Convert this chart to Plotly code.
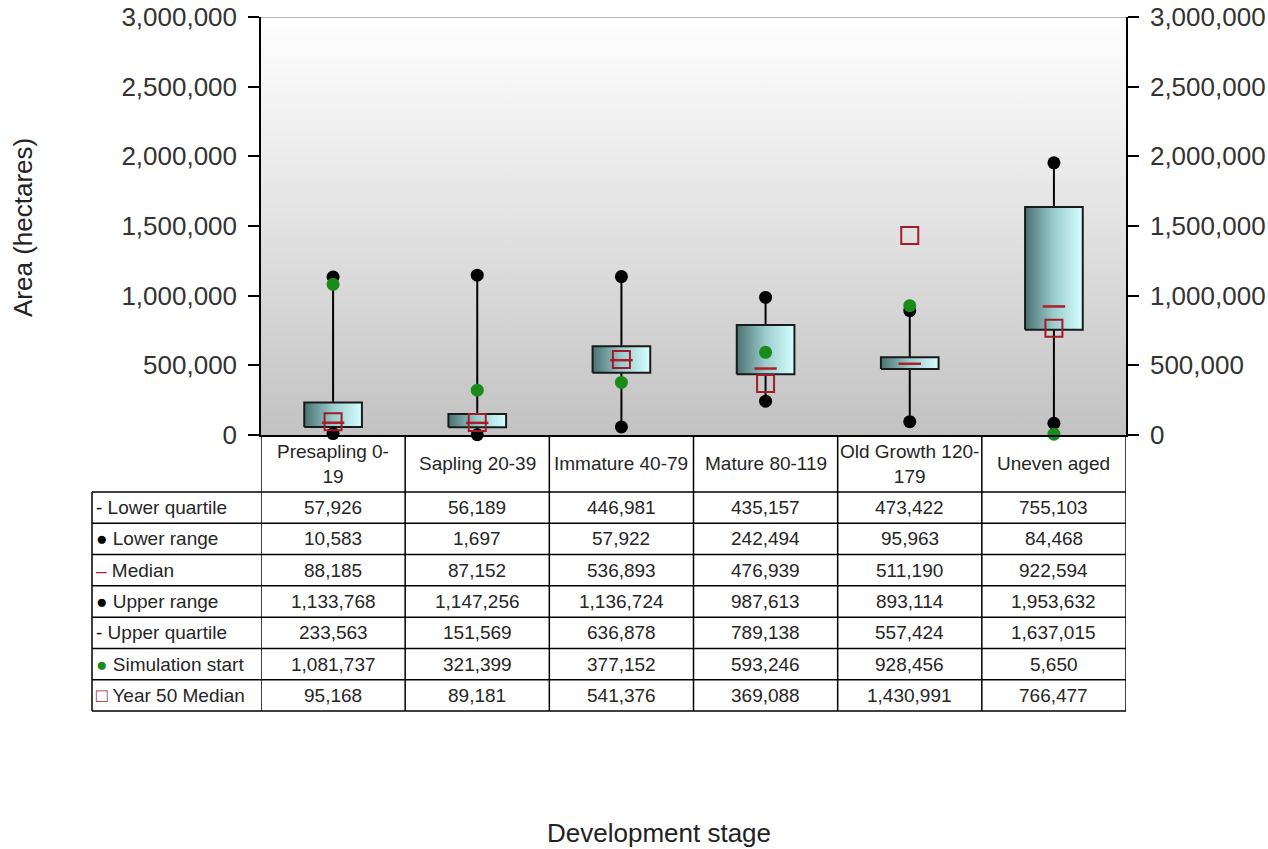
import plotly.graph_objects as go

# ---------------- data ----------------
categories = ["Presapling 0-19", "Sapling 20-39", "Immature 40-79",
              "Mature 80-119", "Old Growth 120-179", "Uneven aged"]
header_labels = ["Presapling 0-<br>19", "Sapling 20-39", "Immature 40-79",
                 "Mature 80-119", "Old Growth 120-<br>179", "Uneven aged"]
lower_quartile = [57926, 56189, 446981, 435157, 473422, 755103]
lower_range = [10583, 1697, 57922, 242494, 95963, 84468]
median = [88185, 87152, 536893, 476939, 511190, 922594]
upper_range = [1133768, 1147256, 1136724, 987613, 893114, 1953632]
upper_quartile = [233563, 151569, 636878, 789138, 557424, 1637015]
simulation_start = [1081737, 321399, 377152, 593246, 928456, 5650]
year50_median = [95168, 89181, 541376, 369088, 1430991, 766477]
y_ticks = [0, 500000, 1000000, 1500000, 2000000, 2500000, 3000000]

row_names = ["Lower quartile", "Lower range", "Median", "Upper range",
             "Upper quartile", "Simulation start", "Year 50 Median"]
row_values = [lower_quartile, lower_range, median, upper_range,
              upper_quartile, simulation_start, year50_median]
row_symbols = ["<span style='color:#000'>-</span>",
               "<span style='color:#000'>\u25CF</span>",
               "<span style='color:#b01c28'>\u2013</span>",
               "<span style='color:#000'>\u25CF</span>",
               "<span style='color:#000'>-</span>",
               "<span style='color:#1a8a1a'>\u25CF</span>",
               "<span style='color:#a01c28'>\u25A1</span>"]

# ---------------- layout geometry (pixels) ----------------
W, H = 1268, 849
PL, PR, PT, PB = 261, 1126, 17, 435
pw, ph = PR - PL, PB - PT


def px_x(px):
    return (px - PL) / pw


def px_y(py):
    return (PB - py) / ph


n = len(categories)
xs = list(range(n))
x_lo, x_hi = -0.5, n - 0.5
y_max = y_ticks[-1]
box_w = 0.4

fig = go.Figure()

# plot-area background gradient
fig.add_trace(go.Scatter(
    x=[x_lo, x_hi, x_hi, x_lo, x_lo], y=[0, 0, y_max, y_max, 0],
    mode="lines", line=dict(width=0), fill="toself",
    fillgradient=dict(type="vertical",
                      colorscale=[[0, "#c2c2c2"], [0.5, "#e2e2e2"], [1, "#ffffff"]]),
    hoverinfo="skip", showlegend=False))

# whiskers
wx, wy = [], []
for i in xs:
    wx += [i, i, None]
    wy += [lower_range[i], upper_range[i], None]
fig.add_trace(go.Scatter(x=wx, y=wy, mode="lines",
                         line=dict(color="#000", width=2),
                         hoverinfo="skip", showlegend=False))

# boxes
for i in xs:
    fig.add_trace(go.Scatter(
        x=[i - box_w / 2, i + box_w / 2, i + box_w / 2, i - box_w / 2, i - box_w / 2],
        y=[lower_quartile[i], lower_quartile[i], upper_quartile[i], upper_quartile[i], lower_quartile[i]],
        mode="lines", line=dict(color="#1a1a1a", width=2), fill="toself",
        fillgradient=dict(type="horizontal",
                          colorscale=[[0, "#4a7272"], [0.5, "#9ccccc"], [1, "#d6ffff"]]),
        hoverinfo="skip", showlegend=False))

# range end dots
fig.add_trace(go.Scatter(x=xs + xs, y=lower_range + upper_range, mode="markers",
                         marker=dict(color="#000", size=13), cliponaxis=False,
                         showlegend=False, name="Range"))
# median
fig.add_trace(go.Scatter(x=xs, y=median, mode="markers",
                         marker=dict(symbol="line-ew", size=16,
                                     line=dict(color="#b01c28", width=2.5)),
                         cliponaxis=False, showlegend=False, name="Median"))
# simulation start
fig.add_trace(go.Scatter(x=xs, y=simulation_start, mode="markers",
                         marker=dict(color="#1a8a1a", size=13), cliponaxis=False,
                         showlegend=False, name="Simulation start"))
# year 50 median
fig.add_trace(go.Scatter(x=xs, y=year50_median, mode="markers",
                         marker=dict(symbol="square-open", size=17, color="#a01c28",
                                     line=dict(color="#a01c28", width=2)),
                         cliponaxis=False, showlegend=False, name="Year 50 Median"))
# invisible trace for right axis
fig.add_trace(go.Scatter(x=[xs[0]], y=[0], yaxis="y2", mode="markers",
                         marker=dict(opacity=0), hoverinfo="skip", showlegend=False))

shapes = []
annotations = []

# top gridline (grey)
shapes.append(dict(type="line", xref="x", yref="y", x0=x_lo, x1=x_hi, y0=y_max, y1=y_max,
                   line=dict(color="#9a9a9a", width=1.5), layer="above"))

# ---------------- data table ----------------
header_top, header_bot = 435, 492
row_h = (711 - 492) / len(row_names)
label_left = 92
border = dict(color="#000", width=1.5)

for k in range(n + 1):
    shapes.append(dict(type="line", xref="x", yref="paper",
                       x0=k - 0.5, x1=k - 0.5,
                       y0=px_y(header_top), y1=px_y(711), line=border))
shapes.append(dict(type="line", xref="paper", yref="paper",
                   x0=px_x(label_left), x1=px_x(label_left),
                   y0=px_y(header_bot), y1=px_y(711), line=border))
for r in range(len(row_names) + 1):
    yy = px_y(header_bot + r * row_h)
    shapes.append(dict(type="line", xref="paper", yref="paper",
                       x0=px_x(label_left), x1=1, y0=yy, y1=yy, line=border))

cell_font = dict(family="Liberation Sans, Arial, sans-serif", size=19, color="#262626")
for i in xs:
    annotations.append(dict(xref="x", yref="paper", x=i,
                            y=px_y((header_top + header_bot) / 2),
                            text=header_labels[i], showarrow=False,
                            xanchor="center", yanchor="middle", font=cell_font))
for r, (name, vals) in enumerate(zip(row_names, row_values)):
    yc = px_y(header_bot + (r + 0.5) * row_h)
    annotations.append(dict(xref="paper", yref="paper", x=px_x(label_left + 2), y=yc,
                            text=row_symbols[r] + " " + name, showarrow=False,
                            xanchor="left", yanchor="middle", font=cell_font))
    for i in xs:
        annotations.append(dict(xref="x", yref="paper", x=i, y=yc,
                                text=f"{vals[i]:,}", showarrow=False,
                                xanchor="center", yanchor="middle", font=cell_font))

# axis titles
title_font = dict(family="Liberation Sans, Arial, sans-serif", size=26, color="#222")
annotations.append(dict(xref="paper", yref="paper", x=px_x(23), y=px_y(228),
                        text="Area (hectares)", textangle=-90, showarrow=False,
                        xanchor="center", yanchor="middle", font=title_font))
annotations.append(dict(xref="paper", yref="paper", x=px_x(659), y=px_y(833),
                        text="Development stage", showarrow=False,
                        xanchor="center", yanchor="middle", font=title_font))

tick_font = dict(family="Liberation Sans, Arial, sans-serif", size=26, color="#333")
yaxis_common = dict(range=[0, y_max], tickvals=y_ticks,
                    ticktext=[f"{v:,}" for v in y_ticks],
                    ticks="outside", ticklen=11, tickwidth=1.5, tickcolor="#000",
                    showline=True, linecolor="#000", linewidth=1.5,
                    tickfont=tick_font, ticklabelstandoff=6, fixedrange=True)

fig.update_layout(
    width=W, height=H,
    margin=dict(l=PL, r=W - PR, t=PT, b=H - PB, autoexpand=False),
    paper_bgcolor="#fff", plot_bgcolor="#fff",
    showlegend=False,
    xaxis=dict(range=[x_lo, x_hi], showticklabels=False, ticks="",
               showgrid=False, zeroline=False, showline=True,
               linecolor="#000", linewidth=1.5, fixedrange=True),
    yaxis=dict(**yaxis_common, showgrid=True, gridcolor="#000", gridwidth=1.5,
               zeroline=False),
    yaxis2=dict(**yaxis_common, overlaying="y", side="right", showgrid=False,
                zeroline=False),
    shapes=shapes,
    annotations=annotations,
)

fig.write_html("out.html", config={"displayModeBar": False},
               post_script="document.body.style.margin='0px';")
